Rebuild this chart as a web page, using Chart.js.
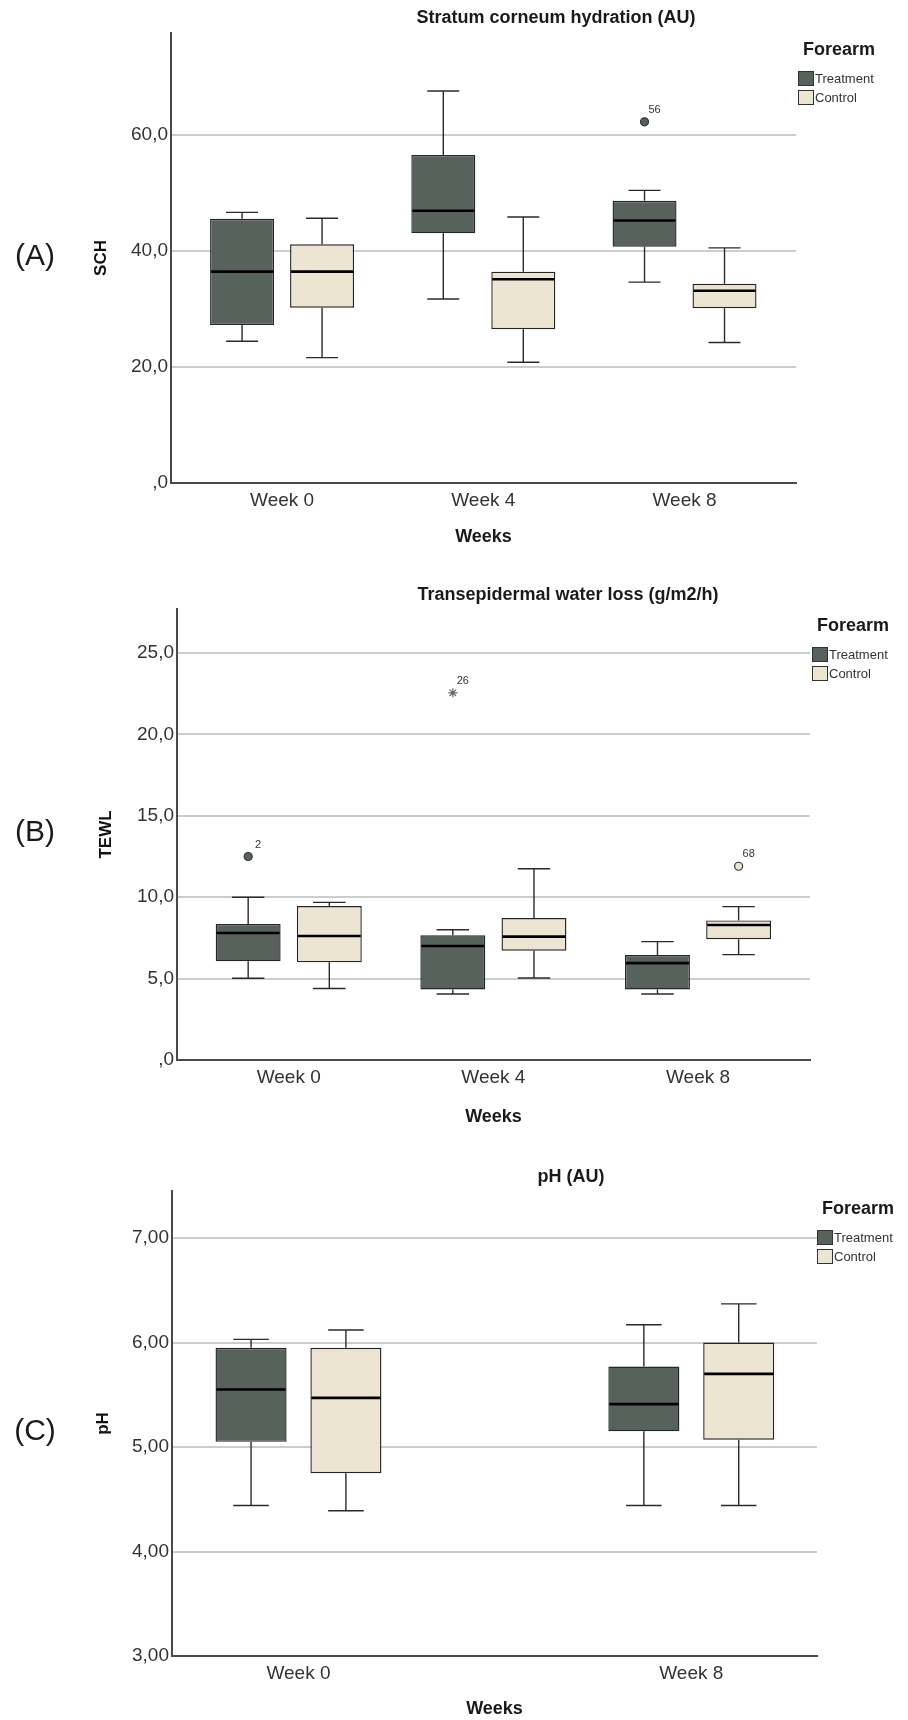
<!DOCTYPE html>
<html>
<head>
<meta charset="utf-8">
<title>Forearm box plots</title>
<script src="https://cdn.jsdelivr.net/npm/chart.js@4.4.1/dist/chart.umd.min.js"></script>
<style>
  body { margin: 0; background: #fff; font-family: "Liberation Sans", Arial, sans-serif; }
  #page { position: relative; width: 908px; height: 1720px; overflow: hidden; }
  canvas { position: absolute; left: 0; }
  .txt { position: absolute; white-space: nowrap; color: #1a1a1a; line-height: 1; transform: translate(-50%, -50%); }
  .letter { font-size: 30px; }
  .title { font-size: 18px; font-weight: bold; }
  .lgTitle { font-size: 18px; font-weight: bold; }
  .sw { position: absolute; width: 14px; height: 13px; border: 1px solid #333; }
  .lgText { position: absolute; font-size: 13px; color: #333; line-height: 1; transform: translateY(-50%); }
</style>
</head>
<body>
<div id="page">
  <canvas id="chartA" width="908" height="550" style="top:0px"></canvas>
  <canvas id="chartB" width="908" height="580" style="top:550px"></canvas>
  <canvas id="chartC" width="908" height="590" style="top:1130px"></canvas>

  <div class="txt letter" style="left:35px; top:255px">(A)</div>
  <div class="txt letter" style="left:35px; top:831px">(B)</div>
  <div class="txt letter" style="left:35px; top:1430px">(C)</div>

  <div class="txt title" style="left:556px; top:17px">Stratum corneum hydration (AU)</div>
  <div class="txt title" style="left:568px; top:594px">Transepidermal water loss (g/m2/h)</div>
  <div class="txt title" style="left:571px; top:1176px">pH (AU)</div>
</div>

<script>
// each box: [min, Q1, median, Q3, max]
const groups = ['Treatment', 'Control'];
const groupColors = ['#58625d', '#ebe5d2'];

const schWeeks = ['Week 0', 'Week 4', 'Week 8'];
const schTreatment = [[24.4, 27.2, 36.4, 45.5, 46.6], [31.7, 43.0, 46.9, 56.5, 67.5], [34.6, 40.7, 45.2, 48.6, 50.4]];
const schControl = [[21.6, 30.2, 36.4, 41.1, 45.6], [20.8, 26.5, 35.1, 36.4, 45.8], [24.2, 30.1, 33.1, 34.3, 40.5]];
const schOutliers = [{ group: 0, week: 2, value: 62.2, label: '56', kind: 'o' }];
const schTicks = [0, 20, 40, 60];

const tewlWeeks = ['Week 0', 'Week 4', 'Week 8'];
const tewlTreatment = [[5.02, 6.06, 7.8, 8.35, 10.0], [4.05, 4.33, 7.0, 7.66, 8.0], [4.05, 4.33, 5.95, 6.45, 7.27]];
const tewlControl = [[4.39, 6.0, 7.62, 9.46, 9.68], [5.04, 6.71, 7.58, 8.72, 11.75], [6.47, 7.42, 8.29, 8.57, 9.42]];
const tewlOutliers = [
  { group: 0, week: 0, value: 12.5, label: '2', kind: 'o' },
  { group: 0, week: 1, value: 22.55, label: '26', kind: '*' },
  { group: 1, week: 2, value: 11.9, label: '68', kind: 'o' }
];
const tewlTicks = [0, 5, 10, 15, 20, 25];

const phWeeks = ['Week 0', 'Week 8'];
const phTreatment = [[4.44, 5.05, 5.55, 5.95, 6.03], [4.44, 5.15, 5.41, 5.77, 6.17]];
const phControl = [[4.39, 4.75, 5.47, 5.95, 6.12], [4.44, 5.07, 5.70, 6.00, 6.37]];
const phOutliers = [];
const phTicks = [3, 4, 5, 6, 7];

const axisColor = '#4a4a4a';
const gridColor = '#cdcdcd';

// SPSS style numbers: 60,0  and  ,0
function fmt(v, d) {
  let s = v.toFixed(d).replace('.', ',');
  if (s.startsWith('0,')) s = s.slice(1);
  return s;
}

// whiskers, caps, medians and outlier labels
const boxParts = {
  id: 'boxParts',
  afterDatasetsDraw(chart) {
    const ctx = chart.ctx;
    const y = chart.scales.y;
    ctx.save();
    chart.data.datasets.forEach((ds, di) => {
      if (!ds.boxes) return;
      const meta = chart.getDatasetMeta(di);
      meta.data.forEach((bar, i) => {
        const b = ds.boxes[i];
        const x = bar.x, w = bar.width;
        ctx.strokeStyle = '#2b2b2b';
        ctx.lineWidth = 1.4;
        ctx.beginPath();
        ctx.moveTo(x, y.getPixelForValue(b[3]));
        ctx.lineTo(x, y.getPixelForValue(b[4]));
        ctx.moveTo(x, y.getPixelForValue(b[1]));
        ctx.lineTo(x, y.getPixelForValue(b[0]));
        ctx.moveTo(x - w / 4, y.getPixelForValue(b[4]));
        ctx.lineTo(x + w / 4, y.getPixelForValue(b[4]));
        ctx.moveTo(x - w / 4, y.getPixelForValue(b[0]));
        ctx.lineTo(x + w / 4, y.getPixelForValue(b[0]));
        ctx.stroke();
        ctx.strokeStyle = '#000';
        ctx.lineWidth = 2.6;
        ctx.beginPath();
        ctx.moveTo(x - w / 2 + 1, y.getPixelForValue(b[2]));
        ctx.lineTo(x + w / 2 - 1, y.getPixelForValue(b[2]));
        ctx.stroke();
      });
    });
    const outs = chart.options.plugins.boxParts.outliers;
    const pts = chart.getDatasetMeta(chart.data.datasets.length - 1).data;
    ctx.fillStyle = '#333';
    ctx.font = '11px "Liberation Sans", Arial, sans-serif';
    ctx.textAlign = 'center';
    ctx.textBaseline = 'middle';
    outs.forEach((o, i) => {
      const p = pts[i];
      ctx.fillText(o.label, p.x + 10, p.y - 12);
    });
    ctx.restore();
  }
};

function makeBoxChart(id, c) {
  const shift = c.catPct / 4;
  const datasets = c.series.map((boxes, g) => ({
    type: 'bar',
    label: groups[g],
    data: boxes.map((b, i) => ({ x: i, y: [b[1], b[3]] })),
    boxes: boxes,
    backgroundColor: groupColors[g],
    borderColor: '#262626',
    borderWidth: 1.4,
    borderSkipped: false,
    categoryPercentage: c.catPct,
    barPercentage: c.barPct
  }));
  datasets.push({
    type: 'scatter',
    label: 'outliers',
    data: c.outliers.map(o => ({ x: o.week + (o.group === 0 ? -shift : shift), y: o.value })),
    pointStyle: c.outliers.map(o => o.kind === '*' ? 'star' : 'circle'),
    backgroundColor: c.outliers.map(o => groupColors[o.group]),
    borderColor: c.outliers.map(o => o.kind === '*' ? '#6a6a6a' : '#333'),
    borderWidth: 1.2,
    pointRadius: c.outliers.map(o => o.kind === '*' ? 4.5 : 4)
  });

  return new Chart(document.getElementById(id), {
    type: 'bar',
    data: { datasets },
    plugins: [boxParts],
    options: {
      responsive: false,
      animation: false,
      events: [],
      layout: { padding: { left: 0, top: c.top, right: 908 - c.right, bottom: 0 } },
      plugins: {
        legend: { display: false },
        tooltip: { enabled: false },
        boxParts: { outliers: c.outliers }
      },
      scales: {
        x: {
          type: 'linear',
          min: c.xMin,
          max: c.xMax,
          offset: false,
          afterBuildTicks: s => { s.ticks = c.weeks.map((w, i) => ({ value: i })); },
          afterFit: s => { s.height = c.xHeight; },
          grid: { display: false, drawTicks: false },
          border: { display: true, color: axisColor, width: 2 },
          ticks: {
            callback: v => c.weeks[v],
            font: { size: 19, family: '"Liberation Sans", Arial, sans-serif' },
            color: '#333',
            padding: 6,
            maxRotation: 0,
            autoSkip: false
          },
          title: {
            display: true,
            text: 'Weeks',
            font: { size: 18, weight: 'bold', family: '"Liberation Sans", Arial, sans-serif' },
            color: '#1a1a1a',
            padding: { top: 0, bottom: c.xTitlePad }
          }
        },
        y: {
          type: 'linear',
          min: c.yMin,
          max: c.yMax,
          afterBuildTicks: s => { s.ticks = c.ticks.map(v => ({ value: v })); },
          afterFit: s => { s.width = c.yWidth; },
          grid: {
            color: g => (g.tick && g.tick.value === c.yMin) ? 'rgba(0,0,0,0)' : gridColor,
            lineWidth: 2,
            drawTicks: false
          },
          border: { display: true, color: axisColor, width: 2 },
          ticks: {
            callback: v => fmt(v, c.decimals),
            font: { size: 19, family: '"Liberation Sans", Arial, sans-serif' },
            color: '#333',
            padding: 3
          },
          title: {
            display: true,
            text: c.yTitle,
            font: { size: 17, weight: 'bold', family: '"Liberation Sans", Arial, sans-serif' },
            color: '#111',
            padding: { top: c.yTitlePad, bottom: 0 }
          }
        }
      }
    }
  });
}

function makeLegend(left, top) {
  const page = document.getElementById('page');
  const t = document.createElement('div');
  t.className = 'txt lgTitle';
  t.style.left = (left + 41) + 'px';
  t.style.top = top + 'px';
  t.textContent = 'Forearm';
  page.appendChild(t);
  groups.forEach((g, i) => {
    const sy = top + 21.5 + i * 19;
    const sw = document.createElement('div');
    sw.className = 'sw';
    sw.style.left = left + 'px';
    sw.style.top = sy + 'px';
    sw.style.background = groupColors[i];
    page.appendChild(sw);
    const tx = document.createElement('div');
    tx.className = 'lgText';
    tx.style.left = (left + 17) + 'px';
    tx.style.top = (sy + 7.5) + 'px';
    tx.textContent = g;
    page.appendChild(tx);
  });
}

makeBoxChart('chartA', {
  weeks: schWeeks, series: [schTreatment, schControl], outliers: schOutliers, ticks: schTicks,
  yMin: 0, yMax: 77.5, decimals: 1, yTitle: 'SCH',
  xMin: -0.552, xMax: 2.554, catPct: 0.795, barPct: 0.8,
  top: 33, right: 796, yWidth: 171, xHeight: 67, yTitlePad: 91, xTitlePad: 2
});
makeBoxChart('chartB', {
  weeks: tewlWeeks, series: [tewlTreatment, tewlControl], outliers: tewlOutliers, ticks: tewlTicks,
  yMin: 0, yMax: 27.7, decimals: 1, yTitle: 'TEWL',
  xMin: -0.546, xMax: 2.547, catPct: 0.793, barPct: 0.8,
  top: 59, right: 810, yWidth: 177, xHeight: 70, yTitlePad: 96, xTitlePad: 2
});
makeBoxChart('chartC', {
  weeks: phWeeks, series: [phTreatment, phControl], outliers: phOutliers, ticks: phTicks,
  yMin: 3, yMax: 7.45, decimals: 2, yTitle: 'pH',
  xMin: -0.322, xMax: 1.320, catPct: 0.483, barPct: 0.749,
  top: 61, right: 817, yWidth: 172, xHeight: 64, yTitlePad: 93, xTitlePad: 0
});

makeLegend(798, 49);
makeLegend(812, 625);
makeLegend(817, 1208);
</script>
</body>
</html>
